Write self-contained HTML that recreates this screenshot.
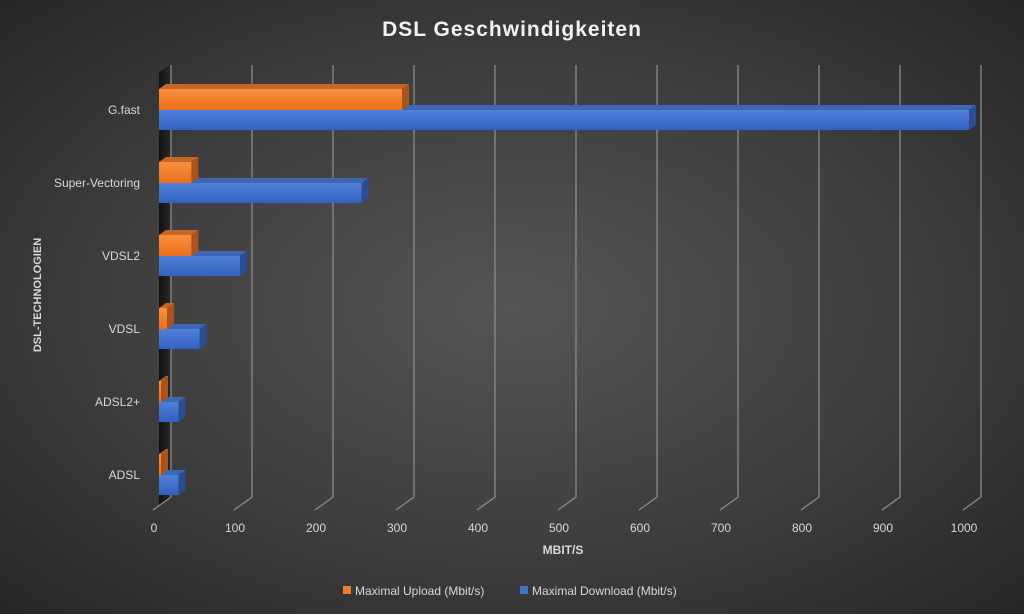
<!DOCTYPE html>
<html><head><meta charset="utf-8"><style>
html,body{margin:0;padding:0;width:1024px;height:614px;overflow:hidden}
body{background:radial-gradient(ellipse at 50% 50%,#555 0%,#3e3e3e 55%,#262626 100%);font-family:"Liberation Sans",sans-serif}
svg{display:block}
</style></head><body>
<svg id="chart" width="1024" height="614" xmlns="http://www.w3.org/2000/svg">
<defs>
<linearGradient id="gO" x1="0" y1="0" x2="0" y2="1"><stop offset="0" stop-color="#f7913f"/><stop offset="1" stop-color="#ec6e1c"/></linearGradient>
<linearGradient id="gB" x1="0" y1="0" x2="0" y2="1"><stop offset="0" stop-color="#5080d8"/><stop offset="1" stop-color="#3461c0"/></linearGradient>
<linearGradient id="wall" x1="0" y1="0" x2="1" y2="0"><stop offset="0" stop-color="#111"/><stop offset="1" stop-color="#2a2a2a"/></linearGradient>
</defs>
<text x="512" y="36" fill="#f2f2f2" font-size="21" font-weight="bold" text-anchor="middle" letter-spacing="1">DSL Geschwindigkeiten</text>
<polygon points="159,72 171,65 171,497 159,505" fill="url(#wall)"/>
<g id="grid"></g>
<g id="bars"></g>
<g id="ylabels"></g>
<g id="xlabels"></g>
<text x="563" y="554" fill="#d9d9d9" font-size="12" font-weight="bold" text-anchor="middle">MBIT/S</text>
<text transform="translate(41,295) rotate(-90)" fill="#d9d9d9" font-size="11" font-weight="bold" text-anchor="middle">DSL-TECHNOLOGIEN</text>
<g>
<rect x="343" y="586" width="8" height="8" fill="#ed7d31"/>
<text x="355" y="595" fill="#d9d9d9" font-size="12">Maximal Upload (Mbit/s)</text>
<rect x="520" y="586" width="8" height="8" fill="#4472c4"/>
<text x="532" y="595" fill="#d9d9d9" font-size="12">Maximal Download (Mbit/s)</text>
</g>
</svg>
<script>
const categories=["G.fast","Super-Vectoring","VDSL2","VDSL","ADSL2+","ADSL"];
const uploadValues=[300,40,40,10,1,1];
const downloadValues=[1000,250,100,50,24,24];
const tickLabels=["0","100","200","300","400","500","600","700","800","900","1000"];
const NS="http://www.w3.org/2000/svg";
const x0=159,scale=0.81,dx=7,dy=5;
const xPos=v=>x0+v*scale;
const yCenter=i=>110+i*73;
function mk(tag,attrs,parent){const e=document.createElementNS(NS,tag);for(const k in attrs)e.setAttribute(k,attrs[k]);parent.appendChild(e);return e;}
const grid=document.getElementById('grid'),bars=document.getElementById('bars'),yl=document.getElementById('ylabels'),xl=document.getElementById('xlabels');
tickLabels.forEach((t,i)=>{
  const v=+t;const bx=xPos(v)+12;
  const l=mk('polyline',{points:`${bx},65 ${bx},497 ${bx-18},510`,fill:'none',stroke:'#8a8a8a','stroke-width':1.3},grid);
  
  
  const tx=mk('text',{x:xPos(v)-5,y:532,fill:'#d9d9d9','font-size':12,'text-anchor':'middle'},xl);
  tx.textContent=t;
  
  
});
function bar3d(v,yTop,h,fill,top,side,name){
  const x1=x0,x2=Math.max(xPos(v),x0+2);
  const g=mk('g',{},bars);
  
  
  mk('polygon',{points:`${x1},${yTop} ${x1+dx},${yTop-dy} ${x2+dx},${yTop-dy} ${x2},${yTop}`,fill:top},g);
  mk('polygon',{points:`${x2},${yTop} ${x2+dx},${yTop-dy} ${x2+dx},${yTop+h-dy} ${x2},${yTop+h}`,fill:side},g);
  mk('rect',{x:x1,y:yTop,width:x2-x1,height:h,fill:fill},g);
}
categories.forEach((c,i)=>{
  const yc=yCenter(i);
  bar3d(downloadValues[i],yc,20,'url(#gB)','#3f66b0','#2a4d93','bar-download-'+c);
  bar3d(uploadValues[i],yc-21,21,'url(#gO)','#c8662a','#a9541f','bar-upload-'+c);
  const t=mk('text',{x:140,y:yc+4,fill:'#d9d9d9','font-size':12,'text-anchor':'end'},yl);
  t.textContent=c;
  
  
});
</script>
</body></html>
